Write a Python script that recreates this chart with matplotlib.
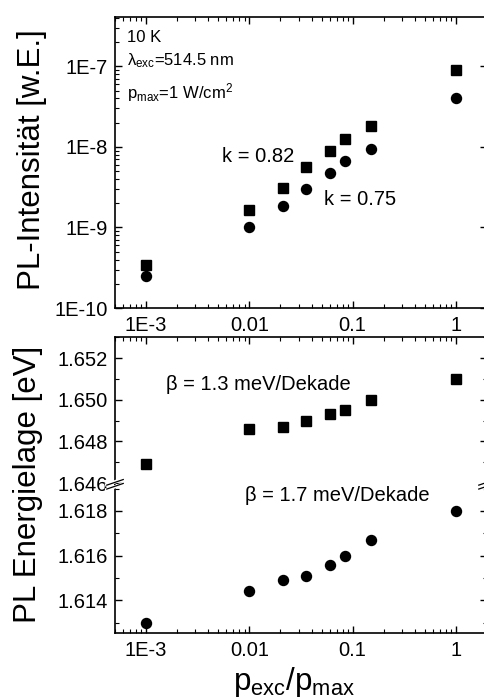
import matplotlib.pyplot as plt
import matplotlib as mpl
from matplotlib.ticker import LogLocator, NullFormatter, FixedLocator, MultipleLocator

mpl.rcParams['font.family'] = ['Liberation Sans', 'DejaVu Sans']
mpl.rcParams['mathtext.default'] = 'regular'
mpl.rcParams['xtick.direction'] = 'in'
mpl.rcParams['ytick.direction'] = 'in'

# data
p_rel = [1e-3, 0.01, 0.021, 0.035, 0.06, 0.085, 0.15, 1.0]
int_sq = [3.4e-10, 1.63e-9, 3.1e-9, 5.6e-9, 8.9e-9, 1.27e-8, 1.82e-8, 8.9e-8]
int_ci = [2.5e-10, 1.0e-9, 1.86e-9, 3.0e-9, 4.8e-9, 6.6e-9, 9.4e-9, 4.07e-8]
en_sq = [1.6469, 1.6486, 1.6487, 1.6490, 1.6493, 1.6495, 1.6500, 1.6510]
en_ci = [1.6130, 1.6144, 1.6149, 1.6151, 1.6156, 1.6160, 1.6167, 1.6180]

x_ticks = [1e-3, 0.01, 0.1, 1]
x_labels = ['1E-3', '0.01', '0.1', '1']
int_ticks = [1e-10, 1e-9, 1e-8, 1e-7]
int_labels = ['1E-10', '1E-9', '1E-8', '1E-7']
en_hi_ticks = [1.646, 1.648, 1.650, 1.652]
en_lo_ticks = [1.614, 1.616, 1.618]

fig = plt.figure(figsize=(4.84, 7.0), dpi=100)
L, R = 115 / 484, 487 / 484
W = R - L

def fy(py):
    return 1 - py / 700

ax1 = fig.add_axes([L, fy(308), W, fy(17) - fy(308)])
ax2 = fig.add_axes([L, fy(484.3), W, fy(337) - fy(484.3)])
ax3 = fig.add_axes([L, fy(633), W, fy(484.3) - fy(633)])

ms_sq, ms_ci = 6.6, 7.2
tick_fs = 14.5
ann_fs = 14.5
lab_fs = 22.5

for ax in (ax1, ax2, ax3):
    ax.set_xscale('log')
    ax.set_xlim(5e-4, 2)
    ax.xaxis.set_major_locator(FixedLocator(x_ticks))
    ax.xaxis.set_minor_locator(LogLocator(base=10, subs=range(2, 10)))
    ax.xaxis.set_minor_formatter(NullFormatter())
    ax.set_xticklabels(x_labels)
    ax.tick_params(which='major', length=5, width=1, labelsize=tick_fs, top=True, right=True)
    ax.tick_params(which='minor', length=3, width=0.8, top=True, right=True)
    ax.tick_params(axis='y', pad=5)
    ax.tick_params(axis='x', pad=6)
    for s in ax.spines.values():
        s.set_linewidth(1.2)

# top panel: intensity
ax1.set_yscale('log')
ax1.set_ylim(1e-10, 4.1e-7)
ax1.plot(p_rel, int_sq, 's', color='black', ms=ms_sq, ls='none')
ax1.plot(p_rel, int_ci, 'o', color='black', ms=ms_ci, ls='none')
ax1.yaxis.set_major_locator(FixedLocator(int_ticks))
ax1.set_yticklabels(int_labels)
ax1.yaxis.set_minor_locator(LogLocator(base=10, subs=range(2, 10)))
ax1.yaxis.set_minor_formatter(NullFormatter())
ax1.tick_params(axis='y', which='minor', right=False)

ax1.text(0.033, 0.93, '10 K', transform=ax1.transAxes, fontsize=12, va='center')
ax1.text(0.033, 0.85, 'λ$_{exc}$=514.5 nm', transform=ax1.transAxes, fontsize=12, va='center')
ax1.text(0.033, 0.74, 'p$_{max}$=1 W/cm$^2$', transform=ax1.transAxes, fontsize=12, va='center')
ax1.text(5.4e-3, 7.7e-9, 'k = 0.82', fontsize=ann_fs, va='center')
ax1.text(0.0526, 2.2e-9, 'k = 0.75', fontsize=ann_fs, va='center')

# bottom panel: energy with broken axis
ax2.set_ylim(1.64594, 1.65302)
ax3.set_ylim(1.61254, 1.61919)
ax2.plot(p_rel, en_sq, 's', color='black', ms=ms_sq, ls='none')
ax3.plot(p_rel, en_ci, 'o', color='black', ms=ms_ci, ls='none')
ax2.yaxis.set_major_locator(FixedLocator(en_hi_ticks))
ax2.yaxis.set_minor_locator(MultipleLocator(0.001))
ax3.yaxis.set_major_locator(FixedLocator(en_lo_ticks))
ax3.yaxis.set_minor_locator(MultipleLocator(0.001))
ax2.yaxis.set_major_formatter(mpl.ticker.FormatStrFormatter('%.3f'))
ax3.yaxis.set_major_formatter(mpl.ticker.FormatStrFormatter('%.3f'))
ax2.spines['bottom'].set_visible(False)
ax3.spines['top'].set_visible(False)
ax2.tick_params(axis='x', which='both', bottom=False, labelbottom=False)
ax3.tick_params(axis='x', which='both', top=False)

ax2.text(1.56e-3, 1.65072, 'β = 1.3 meV/Dekade', fontsize=ann_fs, va='center')
ax3.text(9.15e-3, 1.61868, 'β = 1.7 meV/Dekade', fontsize=ann_fs, va='center')

# break marks on the left and right spines
yb = fy(484.3)
for xc in (L, R):
    for dy in (-0.0035, 0.0035):
        fig.add_artist(plt.Line2D([xc - 0.017, xc + 0.017], [yb + dy - 0.004, yb + dy + 0.004],
                                  color='white', lw=2.5, transform=fig.transFigure))
    for dy in (-0.0028, 0.0028):
        fig.add_artist(plt.Line2D([xc - 0.017, xc + 0.017], [yb + dy - 0.004, yb + dy + 0.004],
                                  color='black', lw=0.9, transform=fig.transFigure))

fig.text(32 / 484, fy(160), 'PL-Intensität [w.E.]', rotation=90, fontsize=lab_fs,
         ha='center', va='center')
fig.text(28 / 484, fy(484), 'PL Energielage [eV]', rotation=90, fontsize=lab_fs,
         ha='center', va='center')
fig.text(294 / 484, fy(682), 'p$_{exc}$/p$_{max}$', fontsize=lab_fs, ha='center', va='center')

fig.savefig('out.png', dpi=100)
